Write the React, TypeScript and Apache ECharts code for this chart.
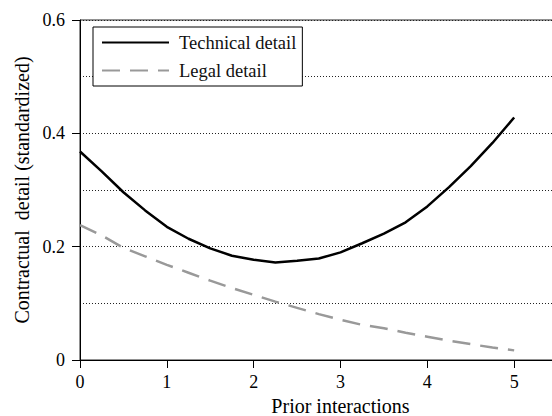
import React, { useEffect, useRef } from "react";
import * as echarts from "echarts";

const priorInteractions = [0, 0.25, 0.5, 0.75, 1, 1.25, 1.5, 1.75, 2, 2.25, 2.5, 2.75, 3, 3.25, 3.5, 3.75, 4, 4.25, 4.5, 4.75, 5];
const technicalDetail = [0.368, 0.333, 0.296, 0.264, 0.235, 0.214, 0.197, 0.184, 0.177, 0.172, 0.175, 0.179, 0.19, 0.206, 0.223, 0.243, 0.271, 0.305, 0.342, 0.383, 0.428];
const legalDetail = [0.238, 0.22, 0.198, 0.183, 0.168, 0.154, 0.14, 0.127, 0.115, 0.103, 0.092, 0.081, 0.071, 0.062, 0.056, 0.048, 0.041, 0.034, 0.028, 0.022, 0.017];
const seriesNames = ["Technical detail", "Legal detail"];
const xAxisTitle = "Prior interactions";
const yAxisTitle = "Contractual  detail (standardized)";

const FONT = "'Liberation Serif', 'Times New Roman', serif";

export default function App() {
  const ref = useRef<HTMLDivElement>(null);
  useEffect(() => {
    document.body.style.margin = "0";
    if (!ref.current) return;
    const chart = echarts.init(ref.current, undefined, { renderer: "svg" });
    const pairs = (ys: number[]) => priorInteractions.map((x, i) => [x, ys[i]]);
    chart.setOption({
      animation: false,
      backgroundColor: "#fff",
      textStyle: { fontFamily: FONT, color: "#000" },
      grid: {
        left: 80,
        top: 20,
        bottom: 56,
        right: -49,
        outerBoundsMode: "none",
        show: true,
        borderColor: "#222",
        borderWidth: 1,
        containLabel: false,
      },
      legend: {
        left: 93,
        top: 27,
        orient: "vertical",
        backgroundColor: "#fff",
        borderColor: "#000",
        borderWidth: 1,
        padding: [6, 6, 6, 8],
        itemGap: 9,
        itemWidth: 67,
        itemHeight: 18,
        itemStyle: { opacity: 0 },
        textStyle: { fontFamily: FONT, fontSize: 18.5, color: "#111", lineHeight: 18, padding: [0, 0, 0, 5] },
        data: seriesNames,
      },
      xAxis: {
        type: "value",
        min: 0,
        max: 6,
        interval: 1,
        name: xAxisTitle,
        nameLocation: "middle",
        nameGap: 34,
        nameTextStyle: { fontFamily: FONT, fontSize: 20, color: "#000" },
        axisLine: { show: true, onZero: false, lineStyle: { color: "#000", width: 1 } },
        axisTick: { show: true, inside: false, length: 8, lineStyle: { color: "#000" } },
        axisLabel: { fontFamily: FONT, fontSize: 18, color: "#000", margin: 13, showMaxLabel: false },
        splitLine: { show: false },
      },
      yAxis: {
        type: "value",
        min: 0,
        max: 0.6,
        interval: 0.2,
        name: yAxisTitle,
        nameLocation: "middle",
        nameGap: 45,
        nameTextStyle: { fontFamily: FONT, fontSize: 20, color: "#000" },
        axisLine: { show: true, onZero: false, lineStyle: { color: "#000", width: 1 } },
        axisTick: { show: true, inside: false, length: 8, lineStyle: { color: "#000" } },
        axisLabel: { fontFamily: FONT, fontSize: 18, color: "#000", margin: 15 },
        splitLine: { show: true, lineStyle: { color: "#222", type: [1, 2], width: 1 } },
        minorTick: { show: false, splitNumber: 2 },
        minorSplitLine: { show: true, lineStyle: { color: "#222", type: [1, 2], width: 1 } },
      },
      series: [
        {
          name: seriesNames[0],
          type: "line",
          data: pairs(technicalDetail),
          symbol: "none",
          showSymbol: false,
          lineStyle: { color: "#000", width: 2.5 },
          itemStyle: { color: "#000" },
          z: 3,
        },
        {
          name: seriesNames[1],
          type: "line",
          data: pairs(legalDetail),
          symbol: "none",
          showSymbol: false,
          lineStyle: { color: "#999", width: 2.5, type: [18, 10] },
          itemStyle: { color: "#999" },
          z: 2,
        },
      ],
    });
    return () => chart.dispose();
  }, []);
  return <div ref={ref} style={{ width: 552, height: 416, overflow: "hidden" }} />;
}
